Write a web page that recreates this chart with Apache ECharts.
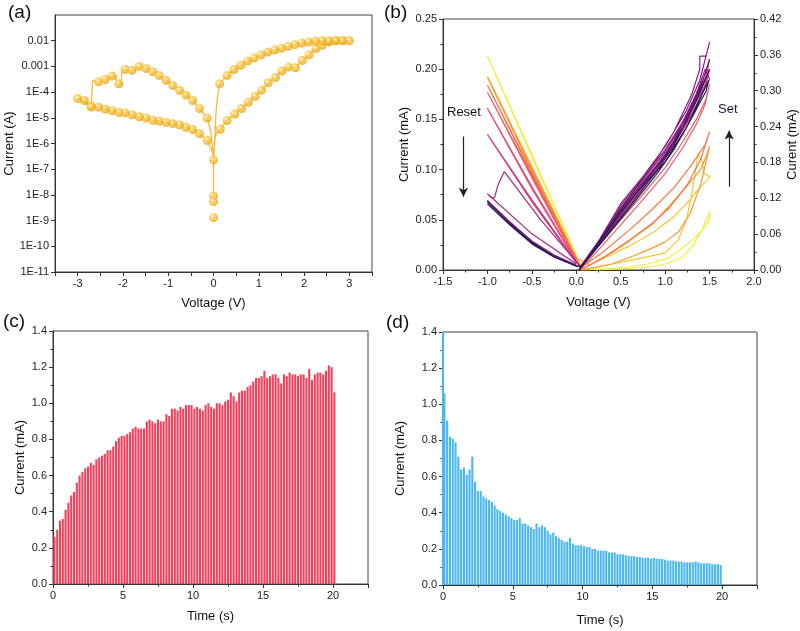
<!DOCTYPE html>
<html><head><meta charset="utf-8">
<script src="https://cdn.jsdelivr.net/npm/echarts@6/dist/echarts.min.js"></script>
<style>html,body{margin:0;padding:0;background:#fff}#c{width:800px;height:631px}</style>
</head><body><div id="c"></div>
<script>
// ---------- Panel (a): I-V on log scale ----------
const aTickValues = [1e-11,1e-10,1e-9,1e-8,1e-7,1e-6,1e-5,1e-4,1e-3,1e-2];
const aTickLabels = ['1E-11','1E-10','1E-9','1E-8','1E-7','1E-6','1E-5','1E-4','0.001','0.01'];
const aZero = [[0,2.3e-7],[0,9e-9],[0,5.5e-9],[0,1.3e-9]];
const aLinkPosStart = [[0.02,1.2e-6],[0.06,2.4e-6]];
const aPosUp = [[0.15,3.6e-6],[0.30,7.8e-6],[0.47,1.4e-5],[0.62,2.3e-5],[0.77,4.0e-5],[0.92,6.9e-5],[1.06,1.2e-4],[1.21,2.3e-4],[1.37,3.7e-4],[1.51,6.6e-4],[1.66,9.4e-4],[1.81,8.9e-4],[1.96,1.7e-3],[2.11,2.8e-3],[2.26,4.9e-3],[2.40,6.6e-3],[2.55,8.9e-3],[2.70,0.0100],[2.85,0.0101],[3.0,0.0100]];
const aPosDown = [[2.85,0.0101],[2.70,0.0102],[2.55,0.0099],[2.40,0.0101],[2.25,0.0096],[2.10,0.0089],[1.95,0.0080],[1.80,0.0070],[1.65,0.0060],[1.50,0.0051],[1.35,0.0043],[1.20,0.0036],[1.05,0.0028],[0.90,0.0021],[0.75,0.0016],[0.60,0.0011],[0.45,7.6e-4],[0.30,4.4e-4],[0.135,2.1e-4]];
const aLinkPosEnd = [[0.08,5e-5],[0.05,1.2e-5],[0.03,1.4e-6],[0.01,4e-7],[0,2.3e-7]];
const aLinkNegStart = [[-0.03,5e-7]];
const aNegOut = [[-0.14,1.3e-6],[-0.31,2.4e-6],[-0.46,3.5e-6],[-0.61,4.3e-6],[-0.75,5.3e-6],[-0.90,5.9e-6],[-1.05,6.6e-6],[-1.20,7.5e-6],[-1.34,8.0e-6],[-1.49,9.8e-6],[-1.64,1.1e-5],[-1.80,1.3e-5],[-1.95,1.55e-5],[-2.09,1.6e-5],[-2.24,1.9e-5],[-2.39,2.2e-5],[-2.54,2.6e-5],[-2.70,2.9e-5],[-2.85,4.7e-5],[-3.0,5.6e-5]];
const aNegTurn = [[-2.70,2.6e-5]];
const aJump0 = [[-2.67,2.6e-5],[-2.67,2.7e-4]];
const aNegBack1 = [[-2.54,2.5e-4],[-2.39,3.1e-4],[-2.24,4.2e-4]];
const aStep1 = [[-2.15,4.2e-4],[-2.15,2.2e-4]];
const aNegBack2 = [[-2.09,2.1e-4]];
const aStep2 = [[-2.03,2.1e-4],[-2.03,8.0e-4]];
const aNegBack3 = [[-1.95,7.6e-4],[-1.80,7.1e-4],[-1.64,1.0e-3],[-1.49,8.3e-4],[-1.34,6.2e-4],[-1.20,4.4e-4],[-1.05,2.9e-4],[-0.90,1.8e-4],[-0.75,1.15e-4],[-0.61,7.6e-5],[-0.46,4.7e-5],[-0.31,2.3e-5],[-0.14,9.8e-6]];
const aLinkNegEnd = [[-0.06,3e-6],[-0.02,6e-7],[0,2.3e-7],[0,9e-9]];

// ---------- Panel (b): cycles (V, mA) ----------
const bColors = ['#f2ee3a','#fbc62f','#f89a2a','#f4764a','#ec5e6a','#df4f78','#cc3c7e','#a92682','#8a1c85','#6a1479','#481760','#1f2250'];
const bCycle1 = [[0.22,0],[0.5,0.001],[0.83,0.003],[1.0,0.006],[1.2,0.013],[1.32,0.025],[1.42,0.041],[1.5,0.058],[1.5,0.05],[1.42,0.04],[1.31,0.03],[1.15,0.019],[1.01,0.011],[0.8,0.006],[0.6,0.003],[0.3,0.001],[0.05,0],[0,0.015],[-0.5,0.115],[-1,0.213],[-0.5,0.113],[0,0.014]];
const bCycle2 = [[0.1,0],[0.35,0.005],[0.64,0.01],[1.0,0.017],[1.15,0.03],[1.24,0.05],[1.31,0.08],[1.37,0.116],[1.42,0.108],[1.44,0.096],[1.5,0.093],[1.48,0.09],[1.4,0.083],[1.28,0.07],[1.1,0.053],[0.86,0.037],[0.6,0.024],[0.34,0.013],[0.08,0.002],[0,0.013],[-0.5,0.103],[-1,0.193],[-0.5,0.102],[0,0.012]];
const bCycle3 = [[0.06,0],[0.4,0.006],[0.64,0.014],[0.86,0.022],[1.0,0.028],[1.15,0.038],[1.28,0.056],[1.4,0.085],[1.5,0.123],[1.47,0.115],[1.4,0.1],[1.24,0.083],[1.05,0.064],[0.86,0.046],[0.6,0.029],[0.41,0.018],[0.15,0.005],[0,0.012],[-0.5,0.102],[-1,0.192],[-0.5,0.1],[0,0.011]];
const bCycle4 = [[0.05,0],[0.3,0.012],[0.6,0.03],[0.85,0.046],[1.05,0.062],[1.25,0.085],[1.4,0.11],[1.5,0.138],[1.45,0.125],[1.3,0.105],[1.1,0.082],[0.85,0.06],[0.6,0.04],[0.3,0.018],[0.05,0.002],[0,0.011],[-0.5,0.098],[-1,0.184],[-0.5,0.096],[0,0.01]];
const bCycle5 = [[0.04,0],[0.25,0.02],[0.5,0.045],[0.75,0.07],[1.0,0.096],[1.2,0.122],[1.35,0.145],[1.45,0.165],[1.5,0.185],[1.46,0.17],[1.35,0.15],[1.2,0.128],[1.0,0.102],[0.75,0.075],[0.5,0.05],[0.25,0.024],[0.05,0.002],[0,0.01],[-0.5,0.094],[-1,0.177],[-0.5,0.092],[0,0.009]];
const bCycle6 = [[0.04,0],[0.25,0.024],[0.5,0.055],[0.75,0.082],[1.0,0.108],[1.2,0.135],[1.35,0.16],[1.45,0.185],[1.5,0.21],[1.47,0.195],[1.35,0.168],[1.2,0.14],[1.0,0.112],[0.75,0.085],[0.5,0.058],[0.25,0.028],[0.05,0.003],[0,0.009],[-0.5,0.083],[-1,0.161],[-0.5,0.081],[0,0.008]];
const bCycle7 = [[0.04,0],[0.25,0.026],[0.5,0.06],[0.75,0.088],[1.0,0.115],[1.2,0.142],[1.35,0.17],[1.45,0.19],[1.5,0.2],[1.46,0.185],[1.3,0.16],[1.1,0.13],[0.9,0.1],[0.6,0.065],[0.3,0.03],[0.05,0.003],[0,0.008],[-0.5,0.07],[-1,0.135],[-0.5,0.068],[0,0.007]];
const bCycle8 = [[0.04,0],[0.25,0.028],[0.5,0.064],[0.75,0.092],[1.0,0.12],[1.2,0.148],[1.35,0.175],[1.45,0.2],[1.5,0.19],[1.45,0.182],[1.3,0.155],[1.1,0.125],[0.9,0.1],[0.6,0.068],[0.3,0.032],[0.05,0.003],[0,0.008],[-0.4,0.05],[-0.81,0.098],[-0.88,0.085],[-0.92,0.072],[-0.96,0.072],[-1,0.076],[-0.5,0.036],[0,0.006]];
const bCycle9 = [[0.03,0],[0.26,0.03],[0.5,0.066],[0.75,0.093],[1.0,0.123],[1.24,0.159],[1.39,0.189],[1.5,0.227],[1.46,0.213],[1.39,0.213],[1.39,0.2],[1.3,0.175],[1.1,0.138],[0.9,0.11],[0.64,0.078],[0.3,0.035],[0.05,0.004],[0,0.004],[-0.25,0.014],[-0.5,0.028],[-0.75,0.047],[-1,0.069],[-0.75,0.048],[-0.5,0.029],[-0.25,0.015],[0,0.005]];
const bCycle10 = [[0.03,0],[0.26,0.029],[0.5,0.062],[0.75,0.09],[1.0,0.118],[1.24,0.152],[1.4,0.182],[1.5,0.21],[1.45,0.195],[1.3,0.165],[1.1,0.128],[0.9,0.103],[0.64,0.072],[0.3,0.032],[0.05,0.003],[0,0.004],[-0.25,0.014],[-0.5,0.028],[-0.75,0.047],[-1,0.069],[-0.75,0.047],[-0.5,0.028],[-0.25,0.014],[0,0.004]];
const bCycle11 = [[0.03,0],[0.26,0.028],[0.5,0.06],[0.75,0.087],[1.0,0.113],[1.24,0.148],[1.4,0.178],[1.5,0.2],[1.45,0.19],[1.3,0.16],[1.1,0.124],[0.9,0.098],[0.64,0.068],[0.3,0.03],[0.05,0.003],[0,0.004],[-0.25,0.013],[-0.5,0.027],[-0.75,0.046],[-1,0.068],[-0.75,0.046],[-0.5,0.027],[-0.25,0.013],[0,0.004]];
const bCycle12 = [[0.03,0],[0.26,0.027],[0.5,0.058],[0.75,0.084],[1.0,0.108],[1.24,0.142],[1.4,0.172],[1.49,0.189],[1.46,0.178],[1.3,0.152],[1.1,0.12],[0.9,0.095],[0.64,0.066],[0.3,0.029],[0.05,0.003],[0,0.004],[-0.25,0.013],[-0.5,0.027],[-0.75,0.045],[-1,0.066],[-0.75,0.045],[-0.5,0.026],[-0.25,0.013],[0,0.004]];
const bCycles = [bCycle1,bCycle2,bCycle3,bCycle4,bCycle5,bCycle6,bCycle7,bCycle8,bCycle9,bCycle10,bCycle11,bCycle12];

// ---------- Panel (c) & (d): pulse peaks (mA) ----------
const pulsePeriod = 0.2;
const cFirstPulse = 0.1;
const cPeaks = [0.26,0.30,0.35,0.36,0.41,0.45,0.49,0.51,0.56,0.60,
0.62,0.64,0.65,0.67,0.66,0.69,0.70,0.71,0.72,0.74,
0.74,0.76,0.79,0.81,0.82,0.82,0.83,0.84,0.86,0.87,
0.86,0.86,0.86,0.90,0.91,0.90,0.89,0.91,0.90,0.90,
0.94,0.93,0.97,0.97,0.96,0.98,0.97,0.99,0.99,0.99,
0.97,0.98,0.97,0.96,0.99,1.00,0.98,0.97,1.00,1.00,
0.99,1.01,1.02,1.06,1.04,1.01,1.06,1.07,1.07,1.09,
1.10,1.12,1.14,1.14,1.15,1.18,1.14,1.15,1.16,1.16,
1.14,1.11,1.16,1.15,1.17,1.16,1.16,1.15,1.16,1.16,
1.14,1.19,1.13,1.16,1.17,1.17,1.16,1.18,1.21,1.20,
1.06];
const dSpike0 = [0, 1.4];
const dFirstPulse = 0.1;
const dPeaks = [1.06,0.91,0.82,0.81,0.79,0.71,0.64,0.65,0.61,0.64,
0.71,0.57,0.52,0.52,0.49,0.48,0.47,0.46,0.44,0.42,
0.41,0.40,0.39,0.38,0.37,0.36,0.36,0.37,0.34,0.34,
0.33,0.32,0.31,0.34,0.32,0.33,0.32,0.30,0.28,0.29,
0.27,0.26,0.25,0.24,0.24,0.26,0.23,0.22,0.22,0.22,
0.215,0.21,0.21,0.20,0.20,0.19,0.19,0.19,0.19,0.18,
0.18,0.18,0.17,0.17,0.17,0.165,0.16,0.16,0.16,0.155,
0.155,0.15,0.15,0.15,0.145,0.15,0.145,0.145,0.145,0.14,
0.135,0.135,0.135,0.13,0.13,0.13,0.125,0.125,0.125,0.125,
0.13,0.125,0.12,0.12,0.12,0.12,0.115,0.115,0.115,0.11];

// ---------- build ----------
const FONT = 'Liberation Sans, Arial, Helvetica, sans-serif';
const AX = '#333';
function axisBase(extra) {
  return Object.assign({
    axisLine: {show: true, onZero: false, lineStyle: {color: AX, width: 1}},
    axisTick: {show: true, inside: false, length: 4, lineStyle: {color: AX, width: 1}},
    minorTick: {show: true, length: 2.5, lineStyle: {color: AX, width: 1}},
    splitLine: {show: false},
    minorSplitLine: {show: false},
    axisLabel: {color: '#222', fontSize: 11, fontFamily: FONT, margin: 6},
    nameLocation: 'middle',
    nameTextStyle: {color: '#111', fontSize: 13, fontFamily: FONT}
  }, extra);
}
const intFmt = v => (Math.abs(v - Math.round(v)) < 1e-6 ? String(Math.round(v)) : '');
const logFmt = v => {
  let best = 0, bd = Infinity;
  aTickValues.forEach((t, i) => { const d = Math.abs(Math.log10(v) - Math.log10(t)); if (d < bd) { bd = d; best = i; } });
  return bd < 0.01 ? aTickLabels[best] : '';
};

const aPath = [].concat([aZero[0]], aLinkPosStart, aPosUp, aPosDown, aLinkPosEnd, aLinkNegStart,
  aNegOut, aNegTurn, aJump0, aNegBack1, aStep1, aNegBack2, aStep2, aNegBack3, aLinkNegEnd);
const aMarks = [].concat(aZero, aPosUp, aPosDown, aNegOut, aNegTurn, aNegBack1, aNegBack2, aNegBack3);

const sphere = {type: 'radial', x: 0.38, y: 0.35, r: 0.65,
  colorStops: [{offset: 0, color: '#fffbe6'}, {offset: 0.3, color: '#fcd05a'}, {offset: 1, color: '#eba212'}]};

const series = [];
series.push({type: 'line', xAxisIndex: 0, yAxisIndex: 0, data: aPath, showSymbol: false, symbol: 'none',
  lineStyle: {color: '#f6b93b', width: 1.3}, animation: false, z: 2});
series.push({type: 'scatter', xAxisIndex: 0, yAxisIndex: 0, data: aMarks, symbolSize: 9,
  itemStyle: {color: sphere}, animation: false, z: 3});

bCycles.forEach((cyc, i) => {
  const s = {type: 'line', xAxisIndex: 1, yAxisIndex: 1, data: cyc, showSymbol: false, symbol: 'none',
    lineStyle: {color: bColors[i], width: 1.2}, animation: false};
  if (i === bCycles.length - 1) {
    s.markLine = {silent: true, symbol: ['none', 'arrow'], symbolSize: [7, 9], animation: false,
      label: {show: false}, lineStyle: {color: '#222', type: 'solid', width: 1.2},
      data: [[{coord: [-1.27, 0.133]}, {coord: [-1.27, 0.073]}], [{coord: [1.72, 0.083]}, {coord: [1.72, 0.139]}]]};
  }
  series.push(s);
});

series.push({type: 'bar', xAxisIndex: 2, yAxisIndex: 3, barWidth: 2.1,
  data: cPeaks.map((v, i) => [+(cFirstPulse + i * pulsePeriod).toFixed(2), v]),
  itemStyle: {color: '#f2415c'}, animation: false});
series.push({type: 'bar', xAxisIndex: 3, yAxisIndex: 4, barWidth: 2.1,
  data: [dSpike0].concat(dPeaks.map((v, i) => [+(dFirstPulse + i * pulsePeriod).toFixed(2), v])),
  itemStyle: {color: '#4cb6f0'}, animation: false});

const gridBox = {show: true, borderColor: '#444', borderWidth: 1, backgroundColor: 'transparent', containLabel: false};
const option = {
  backgroundColor: '#fff',
  animation: false,
  grid: [
    Object.assign({left: 55, top: 15, width: 317, height: 257}, gridBox),
    Object.assign({left: 443, top: 19, width: 311, height: 251}, gridBox),
    Object.assign({left: 53, top: 331, width: 315, height: 253}, gridBox),
    Object.assign({left: 443, top: 332, width: 314, height: 253}, gridBox)
  ],
  xAxis: [
    axisBase({gridIndex: 0, type: 'value', min: -3.5, max: 3.5, interval: 0.5, name: 'Voltage (V)', nameGap: 25,
      minorTick: {show: false}, axisLabel: {color: '#222', fontSize: 11, fontFamily: FONT, margin: 6, formatter: intFmt}}),
    axisBase({gridIndex: 1, type: 'value', min: -1.5, max: 2.0, interval: 0.5, name: 'Voltage (V)', nameGap: 26,
      minorTick: {show: true, splitNumber: 2, length: 2.5, lineStyle: {color: AX}},
      axisLabel: {color: '#222', fontSize: 11, fontFamily: FONT, margin: 6, formatter: v => v.toFixed(1)}}),
    axisBase({gridIndex: 2, type: 'value', min: 0, max: 22.5, interval: 5, name: 'Time (s)', nameGap: 26,
      minorTick: {show: true, splitNumber: 2, length: 2.5, lineStyle: {color: AX}},
      axisLabel: {color: '#222', fontSize: 11, fontFamily: FONT, margin: 6, formatter: intFmt}}),
    axisBase({gridIndex: 3, type: 'value', min: 0, max: 22.5, interval: 5, name: 'Time (s)', nameGap: 29,
      minorTick: {show: true, splitNumber: 2, length: 2.5, lineStyle: {color: AX}},
      axisLabel: {color: '#222', fontSize: 11, fontFamily: FONT, margin: 6, formatter: intFmt}})
  ],
  yAxis: [
    axisBase({gridIndex: 0, type: 'log', logBase: 10, min: 1e-11, max: 0.1, name: 'Current (A)', nameGap: 38,
      minorTick: {show: false},
      axisTick: {show: true, inside: false, length: 4, customValues: aTickValues, lineStyle: {color: AX, width: 1}},
      axisLabel: {color: '#222', fontSize: 11, fontFamily: FONT, margin: 6, customValues: aTickValues, formatter: logFmt}}),
    axisBase({gridIndex: 1, type: 'value', min: 0, max: 0.25, interval: 0.05, name: 'Current (mA)', nameGap: 32,
      minorTick: {show: true, splitNumber: 2, length: 2.5, lineStyle: {color: AX}},
      axisLabel: {color: '#222', fontSize: 11, fontFamily: FONT, margin: 6, formatter: v => v.toFixed(2)}}),
    axisBase({gridIndex: 1, type: 'value', position: 'right', min: 0, max: 0.42, interval: 0.06, name: 'Curent (mA)', nameGap: 32, nameRotate: 90,
      minorTick: {show: true, splitNumber: 2, length: 2.5, lineStyle: {color: AX}},
      axisLabel: {color: '#222', fontSize: 11, fontFamily: FONT, margin: 6, formatter: v => v.toFixed(2)}}),
    axisBase({gridIndex: 2, type: 'value', min: 0, max: 1.4, interval: 0.2, name: 'Current (mA)', nameGap: 26,
      minorTick: {show: true, splitNumber: 2, length: 2.5, lineStyle: {color: AX}},
      axisLabel: {color: '#222', fontSize: 11, fontFamily: FONT, margin: 6, formatter: v => v.toFixed(1)}}),
    axisBase({gridIndex: 3, type: 'value', min: 0, max: 1.4, interval: 0.2, name: 'Current (mA)', nameGap: 36,
      minorTick: {show: true, splitNumber: 2, length: 2.5, lineStyle: {color: AX}},
      axisLabel: {color: '#222', fontSize: 11, fontFamily: FONT, margin: 6, formatter: v => v.toFixed(1)}})
  ],
  graphic: [
    {type: 'text', left: 8, top: 3, style: {text: '(a)', font: '19px ' + FONT, fill: '#111'}},
    {type: 'text', left: 384, top: 3, style: {text: '(b)', font: '19px ' + FONT, fill: '#111'}},
    {type: 'text', left: 3, top: 312, style: {text: '(c)', font: '19px ' + FONT, fill: '#111'}},
    {type: 'text', left: 386, top: 313, style: {text: '(d)', font: '19px ' + FONT, fill: '#111'}},
    {type: 'text', left: 447, top: 106, style: {text: 'Reset', font: '13px ' + FONT, fill: '#111'}},
    {type: 'text', left: 718, top: 103, style: {text: 'Set', font: '13px ' + FONT, fill: '#1a1a4a'}}
  ],
  series: series
};
const chart = echarts.init(document.getElementById('c'), null, {renderer: 'canvas'});
chart.setOption(option);
</script></body></html>
